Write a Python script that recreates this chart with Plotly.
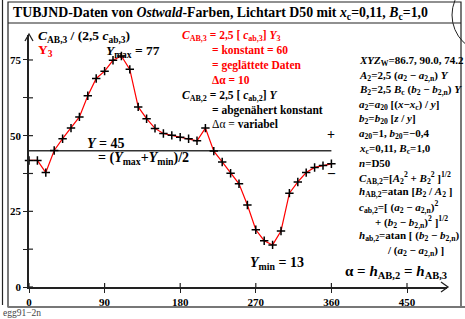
import plotly.graph_objects as go

# ---------------- data ----------------
hue_deg = [0, 10, 20, 30, 40, 50, 60, 70, 80, 90, 100, 110, 120, 130, 140, 150, 160, 170,
           180, 190, 200, 210, 220, 230, 240, 250, 260, 270, 280, 290, 300, 310, 320, 330,
           340, 350, 360]
y3_values = [41.8, 41.8, 37.8, 45.1, 49.0, 52.5, 56.2, 63.2, 68.9, 71.3, 74.9, 76.3, 71.9,
             59.5, 55.6, 52.4, 50.7, 50.1, 49.5, 49.0, 48.3, 52.5, 44.9, 41.3, 37.6, 34.1,
             27.1, 18.9, 15.3, 13.9, 18.5, 31.0, 34.7, 37.8, 39.5, 40.1, 40.7]
y_mean = 45
x_ticks = [0, 90, 180, 270, 360, 450]
y_ticks = [0, 25, 50, 75]
y_minor = [12.5, 37.5, 62.5]

# ---------------- geometry ----------------
W, H = 465, 319
L, R, T, B = 29, 18, 35, 32
PW, PH = W - L - R, H - T - B
XSCALE, YSCALE = 0.84, 3.027
XMAX, YMAX = PW / XSCALE, PH / YSCALE
FONT = "Liberation Serif"


def px(xp):
    return (xp - L) / PW


def py(yp):
    return (H - B - yp) / PH


fig = go.Figure()
fig.add_trace(go.Scatter(x=[0, 360], y=[y_mean, y_mean], mode="lines",
                         line=dict(color="#333333", width=1.5), hoverinfo="skip",
                         showlegend=False))
fig.add_trace(go.Scatter(x=hue_deg, y=y3_values, mode="lines+markers",
                         line=dict(color="#ff0000", width=1.2),
                         marker=dict(symbol="cross-thin", size=6,
                                     line=dict(color="black", width=1.5)),
                         showlegend=False, cliponaxis=False))

shapes = []
# inner tick halves
for v in x_ticks:
    shapes.append(dict(type="line", xref="x", yref="y", x0=v, x1=v, y0=0, y1=4 / YSCALE,
                       line=dict(color="#222222", width=1.2)))
for v in y_ticks + y_minor:
    shapes.append(dict(type="line", xref="x", yref="y", x0=0, x1=4 / XSCALE, y0=v, y1=v,
                       line=dict(color="#222222", width=1.2)))
# arrow heads
shapes.append(dict(type="path", xref="paper", yref="paper",
                   path=f"M {px(441)},{py(282)} L {px(448)},{py(287)} L {px(441)},{py(292)}",
                   line=dict(color="#222222", width=1.3)))
shapes.append(dict(type="path", xref="paper", yref="paper",
                   path=f"M {px(25)},{py(41)} L {px(29)},{py(34)} L {px(33)},{py(41)}",
                   line=dict(color="#222222", width=1.3)))
# frames
shapes.append(dict(type="rect", xref="paper", yref="paper", x0=px(8), x1=px(461),
                   y0=py(2), y1=py(307), line=dict(color="#222222", width=1.2)))
shapes.append(dict(type="line", xref="paper", yref="paper", x0=px(8), x1=px(461),
                   y0=py(23), y1=py(23), line=dict(color="#222222", width=1.2)))
shapes.append(dict(type="line", xref="paper", yref="paper", x0=px(2.5), x1=px(2.5),
                   y0=py(0), y1=py(305), line=dict(color="#222222", width=1.2)))
shapes.append(dict(type="line", xref="paper", yref="paper", x0=px(8), x1=px(465),
                   y0=py(307), y1=py(307), line=dict(color="#777777", width=2)))
shapes.append(dict(type="circle", xref="paper", yref="paper", x0=px(452), x1=px(528),
                   y0=py(-23), y1=py(53), line=dict(color="#222222", width=1)))

ann = []


def txt(x, y, s, size=11, color="black", anchor="left"):
    ann.append(dict(x=px(x), y=py(y), xref="paper", yref="paper", text=s, showarrow=False,
                    xanchor=anchor, yanchor="middle",
                    font=dict(family=FONT, size=size, color=color)))


txt(11, 13, "<b>TUBJND-Daten von <i>Ostwald</i>-Farben, Lichtart D50 mit "
            "<i>x</i><sub>c</sub>=0,11, <i>B</i><sub>c</sub>=1,0</b>", 13.8)
txt(36, 37, "<b><i>C</i><sub>AB,3</sub> / (2,5 <i>c</i><sub>ab,3</sub>)</b>", 13.5)
txt(36, 50, "<b>Y<sub>3</sub></b>", 13.5, "#ff0000")
txt(104, 51, "<b><i>Y</i><sub>max</sub> = 77</b>", 13.5)

red = "#ff0000"
txt(180, 36, "<b><i>C</i><sub>AB,3</sub> = 2,5 [ <i>c</i><sub>ab,3</sub>] <i>Y</i><sub>3</sub></b>", 11.5, red)
txt(210, 50, "<b>= konstant = 60</b>", 11.5, red)
txt(210, 65, "<b>= geglättete Daten</b>", 11.5, red)
txt(210, 80, "<b>Δα = 10</b>", 11.5, red)
txt(180, 96, "<b><i>C</i><sub>AB,2</sub> = 2,5 [ <i>c</i><sub>ab,2</sub>] <i>Y</i></b>", 11.5)
txt(210, 110, "<b>= abgenähert konstant</b>", 11.5)
txt(210, 124, "Δα = <b>variabel</b>", 11.5)

txt(85, 143, "<b><i>Y</i> = 45</b>", 14)
txt(96, 158, "<b>= (<i>Y</i><sub>max</sub>+<i>Y</i><sub>min</sub>)/2</b>", 14)
txt(248, 263, "<b><i>Y</i><sub>min</sub> = 13</b>", 14)
txt(331, 134, "<b>+</b>", 14, anchor="center")
txt(331, 172, "<b>–</b>", 14, anchor="center")

right = [
    (357, "<b><i>XYZ</i><sub>W</sub>=86.7, 90.0, 74.2</b>"),
    (357, "<b><i>A</i><sub>2</sub>=2,5 (<i>a</i><sub>2</sub> − <i>a</i><sub>2,n</sub>) <i>Y</i></b>"),
    (357, "<b><i>B</i><sub>2</sub>=2,5 <i>B</i><sub>c</sub> (<i>b</i><sub>2</sub> − <i>b</i><sub>2,n</sub>) <i>Y</i></b>"),
    (357, "<b><i>a</i><sub>2</sub>=<i>a</i><sub>20</sub> [(<i>x</i>−<i>x</i><sub>c</sub>) / <i>y</i>]</b>"),
    (357, "<b><i>b</i><sub>2</sub>=<i>b</i><sub>20</sub> [<i>z</i> / <i>y</i>]</b>"),
    (357, "<b><i>a</i><sub>20</sub>=1, <i>b</i><sub>20</sub>=−0,4</b>"),
    (357, "<b><i>x</i><sub>c</sub>=0,11, <i>B</i><sub>c</sub>=1,0</b>"),
    (357, "<b><i>n</i>=D50</b>"),
    (357, "<b><i>C</i><sub>AB,2</sub>=[<i>A</i><sub>2</sub><sup>2</sup> + <i>B</i><sub>2</sub><sup>2</sup> ]<sup>1/2</sup></b>"),
    (357, "<b><i>h</i><sub>AB,2</sub>=atan [<i>B</i><sub>2</sub> / <i>A</i><sub>2</sub> ]</b>"),
    (357, "<b><i>c</i><sub>ab,2</sub>=[ (<i>a</i><sub>2</sub> − <i>a</i><sub>2,n</sub>)<sup>2</sup></b>"),
    (373, "<b>+ (<i>b</i><sub>2</sub> − <i>b</i><sub>2,n</sub>)<sup>2</sup> ]<sup>1/2</sup></b>"),
    (357, "<b><i>h</i><sub>ab,2</sub>=atan [ (<i>b</i><sub>2</sub> − <i>b</i><sub>2,n</sub>)</b>"),
    (385, "<b>/ (<i>a</i><sub>2</sub> − <i>a</i><sub>2,n</sub>) ]</b>"),
]
for i, (x0, s) in enumerate(right):
    txt(x0, 61 + i * 14.6, s, 11)
txt(343, 272, "<b>α = <i>h</i><sub>AB,2</sub> = <i>h</i><sub>AB,3</sub></b>", 15)
txt(1, 313, "egg91−2n", 9.5, "#444444")

fig.update_layout(
    width=W, height=H, margin=dict(l=L, r=R, t=T, b=B, autoexpand=False),
    paper_bgcolor="white", plot_bgcolor="white",
    shapes=shapes, annotations=ann, showlegend=False,
    xaxis=dict(range=[0, XMAX], showgrid=False, zeroline=False, showline=True,
               automargin=False,
               linecolor="#222222", linewidth=1.5, ticks="outside", ticklen=4,
               tickwidth=1.2, tickcolor="#222222", tickmode="array", tickvals=x_ticks,
               ticktext=[str(v) for v in x_ticks],
               tickfont=dict(family=FONT, size=11, color="black", weight="bold"),
               fixedrange=True),
    yaxis=dict(range=[0, YMAX], showgrid=False, zeroline=False, showline=True,
               automargin=False,
               linecolor="#222222", linewidth=1.5, ticks="outside", ticklen=4,
               tickwidth=1.2, tickcolor="#222222", tickmode="array", tickvals=y_ticks,
               ticktext=[str(v) for v in y_ticks],
               tickfont=dict(family=FONT, size=11, color="black", weight="bold"),
               minor=dict(tickvals=y_minor, ticks="outside", ticklen=4, tickwidth=1.2,
                          tickcolor="#222222", showgrid=False),
               fixedrange=True),
)

fig.write_html("out.html", config={"displayModeBar": False},
               post_script="document.body.style.margin='0';document.body.style.overflow='hidden';")
